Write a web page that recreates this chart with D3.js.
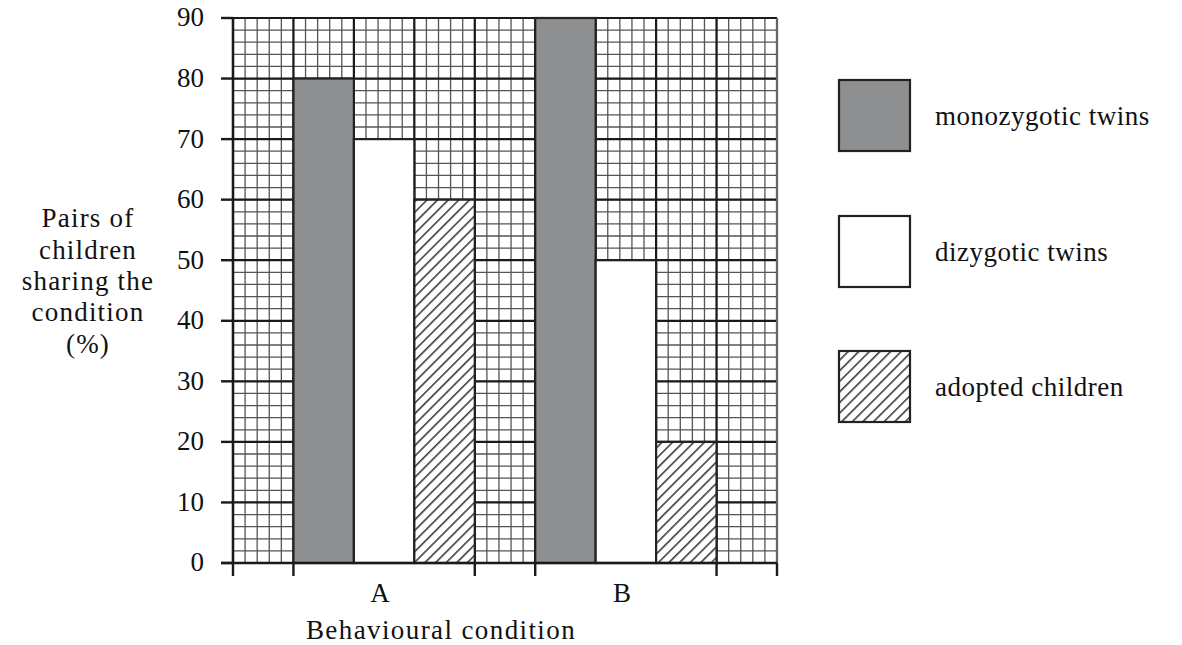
<!DOCTYPE html>
<html><head><meta charset="utf-8">
<script src="https://cdn.jsdelivr.net/npm/d3@7/dist/d3.min.js"></script>
<style>body{margin:0;background:#fff}</style>
</head><body><svg id="c" width="1182" height="645"></svg>
<script>
const categories = ["A", "B"];
const seriesNames = ["monozygotic twins", "dizygotic twins", "adopted children"];
const monozygotic = [80, 90];
const dizygotic = [70, 50];
const adopted = [60, 20];
const yTicks = [0, 10, 20, 30, 40, 50, 60, 70, 80, 90];
const yTitle = ["Pairs of", "children", "sharing the", "condition", "(%)"];
const xTitle = "Behavioural condition";

const seriesValues = [monozygotic, dizygotic, adopted];
const svg = d3.select("#c");
const FONT = "'Liberation Serif', 'Times New Roman', Times, 'DejaVu Serif', serif";
svg.attr("font-family", FONT).style("font-family", FONT).attr("fill", "#111");
const L = 233, R = 777, T = 18, B = 563;
const FS = 27;

const y = d3.scaleLinear().domain([0, 90]).range([B, T]);
const col = d3.scaleLinear().domain([0, 9]).range([L, R]);
const xBand = d3.scaleBand().domain(categories).range([col(1), col(8)]).paddingInner(0.25).paddingOuter(0);
const xInner = d3.scaleBand().domain(seriesNames).range([0, xBand.bandwidth()]);

const defs = svg.append("defs");
const pat = defs.append("pattern").attr("id", "hatch").attr("patternUnits", "userSpaceOnUse")
  .attr("width", 7.5).attr("height", 7.5).attr("patternTransform", "rotate(45)");
pat.append("rect").attr("width", 7.5).attr("height", 7.5).attr("fill", "#fff");
pat.append("line").attr("x1", 0.8).attr("y1", 0).attr("x2", 0.8).attr("y2", 7.5).attr("stroke", "#222").attr("stroke-width", 1.4);

const fills = ["#8e8f90", "#ffffff", "url(#hatch)"];

// grid
const g = svg.append("g");
g.append("rect").attr("x", L).attr("y", T).attr("width", R - L).attr("height", B - T).attr("fill", "#fff");
const minorX = d3.range(0, 9.0001, 0.2);
const minorY = d3.range(0, 90.001, 2);
g.selectAll(".mx").data(minorX).join("line")
  .attr("x1", d => col(d)).attr("x2", d => col(d)).attr("y1", T).attr("y2", B)
  .attr("stroke", "#555").attr("stroke-width", 1.3);
g.selectAll(".my").data(minorY).join("line")
  .attr("y1", d => y(d)).attr("y2", d => y(d)).attr("x1", L).attr("x2", R)
  .attr("stroke", "#555").attr("stroke-width", 1.3);
g.selectAll(".Mx").data(d3.range(0, 10)).join("line")
  .attr("x1", d => col(d)).attr("x2", d => col(d)).attr("y1", T).attr("y2", B)
  .attr("stroke", "#1a1a1a").attr("stroke-width", 2.2);
g.selectAll(".My").data(yTicks).join("line")
  .attr("y1", d => y(d)).attr("y2", d => y(d)).attr("x1", L).attr("x2", R)
  .attr("stroke", "#1a1a1a").attr("stroke-width", 2.2);
g.append("line").attr("x1", R).attr("x2", R).attr("y1", T).attr("y2", B).attr("stroke", "#666").attr("stroke-width", 2);

// bars
const bars = [];
categories.forEach((c, i) => seriesNames.forEach((s, j) => bars.push({c, s, j, v: seriesValues[j][i]})));
svg.append("g").selectAll("rect").data(bars).join("rect")
  .attr("x", d => xBand(d.c) + xInner(d.s))
  .attr("y", d => y(d.v))
  .attr("width", xInner.bandwidth())
  .attr("height", d => y(0) - y(d.v))
  .attr("fill", d => fills[d.j])
  .attr("stroke", "#222").attr("stroke-width", 2.2);

// axes
const ax = svg.append("g").attr("stroke", "#1a1a1a").attr("stroke-width", 2.4);
ax.append("line").attr("x1", L).attr("x2", L).attr("y1", T).attr("y2", B);
ax.append("line").attr("x1", L - 12).attr("x2", R).attr("y1", B).attr("y2", B);
ax.selectAll(".yt").data(yTicks).join("line")
  .attr("x1", L - 12).attr("x2", L).attr("y1", d => y(d)).attr("y2", d => y(d));
const xTickPos = [col(0)].concat(...categories.map(c => [xBand(c), xBand(c) + xBand.bandwidth()]), [col(9)]);
ax.selectAll(".xt").data(xTickPos).join("line")
  .attr("x1", d => d).attr("x2", d => d).attr("y1", B).attr("y2", B + 13);

svg.append("g").selectAll("text").data(yTicks).join("text")
  .attr("x", 204).attr("y", d => y(d) - 1).attr("dy", "0.35em").attr("text-anchor", "end")
  .attr("font-size", FS).text(d => d);

svg.append("g").selectAll("text").data(categories).join("text")
  .attr("x", d => xBand(d) + xBand.bandwidth() / 2 - 4).attr("y", 593).attr("dy", "0.35em").attr("text-anchor", "middle")
  .attr("font-size", FS).text(d => d);

svg.append("text").attr("x", 441).attr("y", 630).attr("dy", "0.35em").attr("text-anchor", "middle")
  .attr("font-size", FS).attr("letter-spacing", "1.4px").text(xTitle);

svg.append("g").selectAll("text").data(yTitle).join("text")
  .attr("x", 88).attr("y", (d, i) => 218 + i * 31.3).attr("dy", "0.35em").attr("text-anchor", "middle")
  .attr("font-size", FS).attr("letter-spacing", "1.2px").text(d => d);

// legend
const lg = svg.append("g");
const legY = [80, 216, 351];
seriesNames.forEach((s, j) => {
  lg.append("rect").attr("x", 839).attr("y", legY[j]).attr("width", 71).attr("height", 71)
    .attr("fill", fills[j]).attr("stroke", "#222").attr("stroke-width", 2.2);
  lg.append("text").attr("x", 935).attr("y", legY[j] + 36).attr("dy", "0.35em")
    .attr("font-size", FS).attr("letter-spacing", "0.5px").text(s);
});
</script></body></html>
